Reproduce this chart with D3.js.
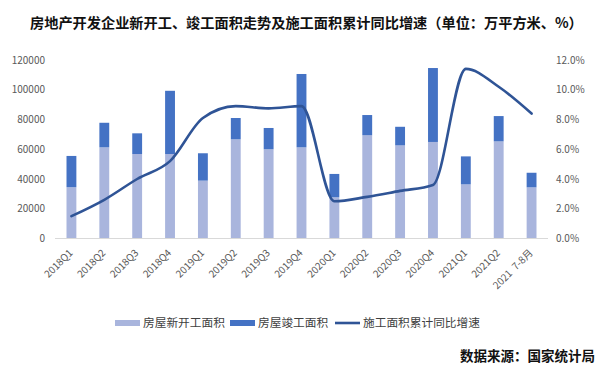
<!DOCTYPE html>
<html>
<head>
<meta charset="utf-8">
<script src="https://cdn.jsdelivr.net/npm/d3@7"></script>
<style>
  body { margin: 0; background: #fff; }
  text { font-family: "Noto Sans CJK SC", "Noto Sans", sans-serif; }
</style>
</head>
<body>
<div id="chart"></div>
<script>
// categories and values
const quarters = ["2018Q1","2018Q2","2018Q3","2018Q4","2019Q1","2019Q2","2019Q3","2019Q4",
                  "2020Q1","2020Q2","2020Q3","2020Q4","2021Q1","2021Q2","2021  7-8月"];
// 房屋新开工面积 (万平方米)
const newStarts = [34500, 61300, 56800, 56800, 38900, 66700, 60000, 61300,
                   27700, 69400, 62600, 64900, 36400, 65300, 34400];
// 房屋竣工面积 (万平方米)
const completed = [21000, 16500, 13900, 42500, 18400, 14300, 14300, 49300,
                   15700, 13600, 12500, 49700, 18800, 17000, 9800];
// 施工面积累计同比增速 (%)
const growth = [1.5, 2.6, 4.0, 5.2, 8.1, 8.9, 8.75, 8.9,
                2.5, 2.8, 3.2, 3.6, 11.4, 10.2, 8.4];

const leftTicks = [0, 20000, 40000, 60000, 80000, 100000, 120000];
const rightTicks = [0, 2, 4, 6, 8, 10, 12];

const width = 600, height = 376;
const plotLeft = 55, plotRight = 548, plotTop = 60, plotBottom = 238.5;

const colLight = "#a9b5dd", colDark = "#4472c4", colLine = "#2f5496";

const svg = d3.select("#chart").append("svg")
  .attr("width", width).attr("height", height);

// title
svg.append("text")
  .attr("x", 30).attr("y", 28)
  .style("font-size", "14.2px").style("font-weight", "bold").style("fill", "#111")
  .text("房地产开发企业新开工、竣工面积走势及施工面积累计同比增速（单位：万平方米、%）");

// scales
const x = d3.scaleBand().domain(quarters)
  .range([plotLeft, plotRight]).paddingInner(0.7).paddingOuter(0.35);
const yL = d3.scaleLinear().domain([0, 120000]).range([plotBottom, plotTop]);
const yR = d3.scaleLinear().domain([0, 12]).range([plotBottom, plotTop]);

// left axis labels
svg.append("g").selectAll("text").data(leftTicks).join("text")
  .attr("x", 45).attr("y", d => yL(d)).attr("dy", "0.35em")
  .attr("text-anchor", "end")
  .style("font-size", "10px").style("fill", "#595959")
  .text(d => d);

// right axis labels
svg.append("g").selectAll("text").data(rightTicks).join("text")
  .attr("x", 556).attr("y", d => yR(d)).attr("dy", "0.35em")
  .style("font-size", "10px").style("fill", "#595959")
  .text(d => d.toFixed(1) + "%");

// stacked bars
const rows = quarters.map((q, i) => ({ q, a: newStarts[i], b: completed[i], g: growth[i] }));
const bars = svg.append("g");
bars.selectAll(".lo").data(rows).join("rect")
  .attr("x", d => x(d.q)).attr("width", x.bandwidth())
  .attr("y", d => yL(d.a)).attr("height", d => yL(0) - yL(d.a))
  .style("fill", colLight);
bars.selectAll(".hi").data(rows).join("rect")
  .attr("x", d => x(d.q)).attr("width", x.bandwidth())
  .attr("y", d => yL(d.a + d.b)).attr("height", d => yL(d.a) - yL(d.a + d.b))
  .style("fill", colDark);

// baseline
svg.append("line")
  .attr("x1", plotLeft).attr("x2", plotRight)
  .attr("y1", plotBottom).attr("y2", plotBottom)
  .style("stroke", "#d9d9d9").style("stroke-width", 1);

// growth line (smoothed)
const line = d3.line()
  .x(d => x(d.q) + x.bandwidth() / 2)
  .y(d => yR(d.g))
  .curve(d3.curveMonotoneX);
svg.append("path").datum(rows)
  .attr("d", line)
  .style("fill", "none").style("stroke", colLine).style("stroke-width", 2.6)
  .style("stroke-linecap", "round");

// x labels
svg.append("g").selectAll("text").data(quarters).join("text")
  .attr("transform", d => `translate(${x(d) + x.bandwidth() / 2 + 2},${plotBottom + 15}) rotate(-45)`)
  .attr("text-anchor", "end")
  .style("font-size", "10px").style("fill", "#595959")
  .style("white-space", "pre")
  .text(d => d);

// legend
const legend = svg.append("g").attr("transform", "translate(0,323)");
const items = [
  { label: "房屋新开工面积", x: 115, type: "rect", color: colLight },
  { label: "房屋竣工面积", x: 230, type: "rect", color: colDark },
  { label: "施工面积累计同比增速", x: 335, type: "line", color: colLine }
];
items.forEach(it => {
  if (it.type === "rect") {
    legend.append("rect").attr("x", it.x).attr("y", -3).attr("width", 25).attr("height", 6)
      .style("fill", it.color);
  } else {
    legend.append("line").attr("x1", it.x).attr("x2", it.x + 25).attr("y1", 0).attr("y2", 0)
      .style("stroke", it.color).style("stroke-width", 2.6);
  }
  legend.append("text").attr("x", it.x + 28).attr("y", 0).attr("dy", "0.35em")
    .style("font-size", "11.7px").style("fill", "#404040")
    .text(it.label);
});

// source
svg.append("text")
  .attr("x", 595).attr("y", 356).attr("dy", "0.35em")
  .attr("text-anchor", "end")
  .style("font-size", "13.5px").style("font-weight", "bold").style("fill", "#111")
  .text("数据来源：国家统计局");
</script>
</body>
</html>
